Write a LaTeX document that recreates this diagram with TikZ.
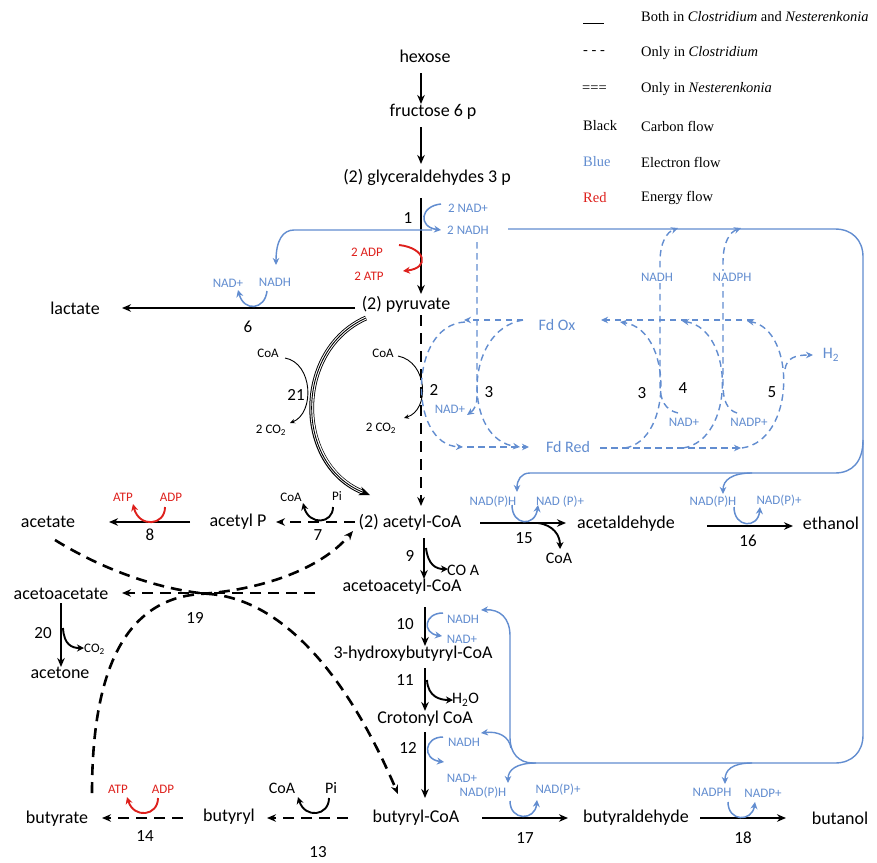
\documentclass[tikz,border=0pt]{standalone}
\usepackage{fontspec}
\setmainfont{Carlito}
\newfontfamily\legfont{Liberation Serif}
\usetikzlibrary{arrows.meta}
\definecolor{eblue}{RGB}{98,141,208}
\definecolor{ered}{RGB}{222,32,28}
\tikzset{
  lab/.style={inner sep=0pt, font=\fontsize{18}{18}\selectfont},
  num/.style={inner sep=0pt, font=\fontsize{17}{17}\selectfont},
  sml/.style={inner sep=0pt, font=\fontsize{13}{13}\selectfont},
  mid/.style={inner sep=0pt, font=\fontsize{16}{16}\selectfont},
  blab/.style={sml, text=eblue},
  rlab/.style={sml, text=ered},
  leg/.style={inner sep=0pt, anchor=west, font=\legfont\fontsize{14.5}{14.5}\selectfont},
  mainarr/.style={line width=2.6pt, -{Stealth[length=9pt,width=7.5pt]}},
  maindash/.style={mainarr, dash pattern=on 11pt off 7pt},
  elec/.style={draw=eblue, line width=1.4pt, -{Stealth[length=7pt,width=6.5pt]}},
  eline/.style={draw=eblue, line width=1.4pt},
  edash/.style={elec, dash pattern=on 6.5pt off 4.5pt},
  thinarc/.style={line width=0.9pt, -{Stealth[length=5pt,width=4.5pt]}},
  thickarc/.style={line width=1.9pt, -{Stealth[length=7pt,width=7pt]}},
  redarc/.style={draw=ered, line width=1.9pt, -{Stealth[length=7pt,width=7pt]}},
  bluearc/.style={draw=eblue, line width=1.5pt, -{Stealth[length=7pt,width=7pt]}},
  curvedash/.style={line width=2.6pt, dash pattern=on 11pt off 7pt},
}
\begin{document}
\begin{tikzpicture}[x=1pt,y=-1pt]
\useasboundingbox (0,0) rectangle (877,862);
\fill[white] (0,0) rectangle (877,862);

% ---------- legend ----------
\draw[line width=0.8pt] (583,23) -- (604,23);
\node[leg] (l1) at (641,17) {Both in \textit{Clostridium} and \textit{Nesterenkonia}};
\node[leg] (k2) at (583,53) {- - -};
\node[leg] (l2) at (641,53) {Only in \textit{Clostridium}};
\node[leg] (k3) at (582,89) {===};
\node[leg] (l3) at (641,89) {Only in \textit{Nesterenkonia}};
\node[leg] (k4) at (583,126) {Black};
\node[leg] (l4) at (641,126) {Carbon flow};
\node[leg, text=eblue] (k5) at (583,162) {Blue};
\node[leg] (l5) at (641,162) {Electron flow};
\node[leg, text=ered] (k6) at (583,198) {Red};
\node[leg] (l6) at (641,198) {Energy flow};

% ---------- metabolites ----------
\node[lab] (hex) at (425,56) {hexose};
\node[lab] (f6p) at (433,112) {fructose 6 p};
\node[lab] (g3p) at (427,177) {(2) glyceraldehydes 3 p};
\node[lab] (pyr) at (406,304) {(2) pyruvate};
\node[lab] (lac) at (75,308) {lactate};
\node[lab] (acoa) at (410,522) {(2) acetyl-CoA};
\node[lab] (acp) at (238,522) {acetyl P};
\node[lab] (ace) at (48,522) {acetate};
\node[lab] (ald) at (626,524) {acetaldehyde};
\node[lab] (eth) at (831,523) {ethanol};
\node[lab] (aacoa) at (402,587) {acetoacetyl-CoA};
\node[lab] (aac) at (61,594) {acetoacetate};
\node[lab] (acn) at (60,673) {acetone};
\node[lab] (hbcoa) at (413,654) {3-hydroxybutyryl-CoA};
\node[lab] (ccoa) at (425,719) {Crotonyl CoA};
\node[lab] (bcoa) at (416,818) {butyryl-CoA};
\node[lab] (bald) at (636,818) {butyraldehyde};
\node[lab] (but) at (840,818) {butanol};
\node[lab] (bp) at (229,817) {butyryl};
\node[lab] (bta) at (57,819) {butyrate};

% ---------- main carbon arrows ----------
\draw[mainarr] (421,73) -- (421,104);
\draw[mainarr] (421,127) -- (421,164);
\draw[mainarr] (421,198) -- (421,294);
\draw[maindash] (421,315) -- (421,506);
\draw[mainarr] (355,308) -- (122,308);
\draw[maindash] (355,522) -- (276,522);
\draw[mainarr] (190,522) -- (109,522);
\draw[mainarr] (424,538) -- (424,579);
\draw[mainarr] (425,607) -- (425,646);
\draw[mainarr] (425,668) -- (425,711);
\draw[mainarr] (425,732) -- (425,798);
\draw[mainarr] (480,523) -- (566,523);
\draw[mainarr] (707,526) -- (793,526);
\draw[mainarr] (482,818) -- (568,818);
\draw[mainarr] (700,818) -- (786,818);
\draw[maindash] (348,818) -- (267,818);
\draw[maindash] (183,818) -- (102,818);
\draw[maindash] (315,593) -- (122,593);
\draw[mainarr] (61,603) -- (61,667);

% reaction 19 curves
\draw[curvedash, -{Stealth[length=9pt,width=7.5pt]}] (55,540) .. controls (120,580) and (180,592) .. (210,594) .. controls (280,600) and (345,670) .. (398,794);
\draw[curvedash, -{Stealth[length=9pt,width=7.5pt]}] (92,793) .. controls (92,680) and (120,600) .. (200,594) .. controls (260,590) and (320,570) .. (353,531);

% reaction 21 (Nesterenkonia only, triple line)
\draw[line width=4.8pt, shorten >=7pt] (366,318) .. controls (294,350) and (294,465) .. (370,495);
\draw[white, line width=3.0pt, shorten >=6pt] (366,318) .. controls (294,350) and (294,465) .. (370,495);
\draw[line width=0.9pt, -{Stealth[length=11pt,width=9pt]}] (366,318) .. controls (294,350) and (294,465) .. (370,495);

% ---------- small side arcs ----------
\node[sml] (coa2) at (383,353) {CoA};
\node[sml] (co22) at (381,428) {2 CO\textsubscript{2}};
\draw[thinarc] (398,356) .. controls (428,362) and (430,410) .. (404,418);
\node[sml] (coa21) at (268,353) {CoA};
\node[sml] (co221) at (271,430) {2 CO\textsubscript{2}};
\draw[thinarc] (285,358) .. controls (313,363) and (315,413) .. (290,423);

\node[sml] (coa7) at (291,497) {CoA};
\node[sml] (pi7) at (337,496) {Pi};
\draw[thickarc] (333,507) .. controls (333,524) and (309,526) .. (303,503);

\node[rlab] (atp8) at (123,497) {ATP};
\node[rlab] (adp8) at (171,497) {ADP};
\draw[redarc] (165,507) .. controls (165,526) and (139,528) .. (133,504);

\node[mid, anchor=west] (coa9) at (447,570) {CO A};
\draw[thickarc] (426,548) .. controls (428,565) and (436,569) .. (448,569);

\node[mid, anchor=west] (h2o) at (452,700) {H\textsubscript{2}O};
\draw[thickarc] (427,680) .. controls (428,697) and (440,700) .. (453,700);

\node[mid] (coa15) at (559,558) {CoA};
\draw[thickarc] (538,523) .. controls (553,525) and (560,535) .. (560,549);

\node[mid] (coa13) at (282,788) {CoA};
\node[mid] (pi13) at (331,788) {Pi};
\draw[thickarc] (329,798) .. controls (329,816) and (305,819) .. (298,797);

\node[rlab] (atp14) at (118,789) {ATP};
\node[rlab] (adp14) at (163,789) {ADP};
\draw[redarc] (158,798) .. controls (158,816) and (134,819) .. (127,797);

\node[sml, anchor=west] (co220) at (84,649) {CO\textsubscript{2}};
\draw[thickarc] (63,628) .. controls (64,645) and (72,648) .. (84,648);

\node[rlab] (adp1) at (367,252) {2 ADP};
\node[rlab] (atp1) at (369,276) {2 ATP};
\draw[redarc] (399,245) .. controls (426,248) and (430,268) .. (403,271);

% ---------- reaction numbers ----------
\node[num] (n1) at (408,218) {1};
\node[num] (n2) at (434,390) {2};
\node[num] (n3a) at (489,392) {3};
\node[num] (n3b) at (642,393) {3};
\node[num] (n4) at (683,388) {4};
\node[num] (n5) at (772,392) {5};
\node[num] (n6) at (248,327) {6};
\node[num] (n7) at (318,535) {7};
\node[num] (n8) at (150,535) {8};
\node[num] (n9) at (410,556) {9};
\node[num] (n10) at (405,624) {10};
\node[num] (n11) at (405,680) {11};
\node[num] (n12) at (408,748) {12};
\node[num] (n13) at (318,852) {13};
\node[num] (n14) at (145,836) {14};
\node[num] (n15) at (524,538) {15};
\node[num] (n16) at (748,541) {16};
\node[num] (n17) at (525,838) {17};
\node[num] (n18) at (743,838) {18};
\node[num] (n19) at (195,618) {19};
\node[num] (n20) at (43,633) {20};
\node[num] (n21) at (296,395) {21};

% ---------- electron flow labels ----------
\node[blab] (nad1) at (468,208) {2 NAD+};
\node[blab] (nadh1) at (468,230) {2 NADH};
\node[blab] (nad6) at (228,283) {NAD+};
\node[blab] (nadh6) at (275,282) {NADH};
\node[blab] (nad3) at (450,409) {NAD+};
\node[blab] (nad3b) at (684,422) {NAD+};
\node[blab] (nadp5) at (749,422) {NADP+};
\node[mid, text=eblue] (fdox) at (557,325) {Fd Ox};
\node[mid, text=eblue] (fdred) at (568,447) {Fd Red};
\node[mid, text=eblue] (h2) at (831,355) {H\textsubscript{2}};
\node[blab] (nph15) at (493,502) {NAD(P)H};
\node[blab] (np15) at (560,502) {NAD (P)+};
\node[blab] (nph16) at (713,502) {NAD(P)H};
\node[blab] (np16) at (779,501) {NAD(P)+};
\node[blab] (nadh10) at (463,619) {NADH};
\node[blab] (nad10) at (462,639) {NAD+};
\node[blab] (nadh12) at (464,742) {NADH};
\node[blab] (nad12) at (462,778) {NAD+};
\node[blab] (nph17) at (483,793) {NAD(P)H};
\node[blab] (np17) at (558,790) {NAD(P)+};
\node[blab] (nph18) at (712,792) {NADPH};
\node[blab] (np18) at (763,793) {NADP+};

% ---------- electron flow arcs ----------
\draw[bluearc] (441,204) .. controls (420,206) and (418,227) .. (441,230);
\draw[bluearc] (267,291) .. controls (265,310) and (244,312) .. (238,290);
\draw[bluearc] (443,613) .. controls (424,613) and (422,633) .. (442,636);
\draw[bluearc] (443,737) .. controls (424,737) and (422,759) .. (444,762);
\draw[bluearc] (512,505) .. controls (512,526) and (535,527) .. (538,505);
\draw[bluearc] (734,507) .. controls (734,528) and (758,529) .. (760,507);
\draw[bluearc] (510,801) .. controls (510,821) and (535,821) .. (537,800);
\draw[bluearc] (728,802) .. controls (728,822) and (752,822) .. (755,802);

% ---------- electron network (solid) ----------
\draw[elec] (432,230) -- (294,230) .. controls (283,230) and (276,240) .. (276,265);
\draw[eline] (508,229) -- (835,229) .. controls (852,229) and (863,240) .. (863,257) -- (863,735) .. controls (863,752) and (852,763) .. (835,763) -- (533,763);
\draw[elec] (863,440) .. controls (863,462) and (852,473) .. (835,473) -- (530,473) .. controls (521,473) and (517,480) .. (517,492);
\draw[elec] (752,473) .. controls (732,473) and (723,480) .. (723,494);
\draw[elec] (533,763) .. controls (518,763) and (510,752) .. (510,738) -- (510,636) .. controls (510,618) and (500,609) .. (481,610);
\draw[elec] (511,748) .. controls (509,736) and (498,731) .. (481,733);
\draw[elec] (536,763) .. controls (516,763) and (508,770) .. (508,783);
\draw[elec] (752,763) .. controls (732,763) and (725,770) .. (725,784);

% ---------- ferredoxin cycles (Clostridium only) ----------
\draw[edash] (477,242) -- (477,396) .. controls (477,405) and (474,410) .. (467,415);
\draw[edash] (523,320) -- (464,320);
\draw[edash] (465,322) .. controls (408,325) and (408,445) .. (463,447);
\draw[edash] (467,447) -- (529,447);
\draw[edash] (523,320) .. controls (463,330) and (463,440) .. (520,447);

\draw[edash] (753,320) -- (601,320);
\draw[edash] (600,448) -- (741,448);
\draw[edash] (625,448) .. controls (673,440) and (673,330) .. (620,322);
\draw[edash] (683,448) .. controls (735,440) and (735,330) .. (682,321);
\draw[edash] (742,448) .. controls (796,440) and (796,330) .. (747,321);
\draw[edash] (785,369) .. controls (787,358) and (795,355) .. (813,355);
\draw[edash] (678,413) .. controls (665,410) and (660,400) .. (660,385) -- (660,262) .. controls (660,242) and (667,232) .. (678,228);
\draw[edash] (737,413) .. controls (727,410) and (723,400) .. (723,385) -- (723,262) .. controls (723,242) and (730,232) .. (741,228);
\node[blab, fill=white, inner sep=1.5pt] (nadh3) at (657,277) {NADH};
\node[blab, fill=white, inner sep=1.5pt] (nadph4) at (732,277) {NADPH};
\end{tikzpicture}
\end{document}
